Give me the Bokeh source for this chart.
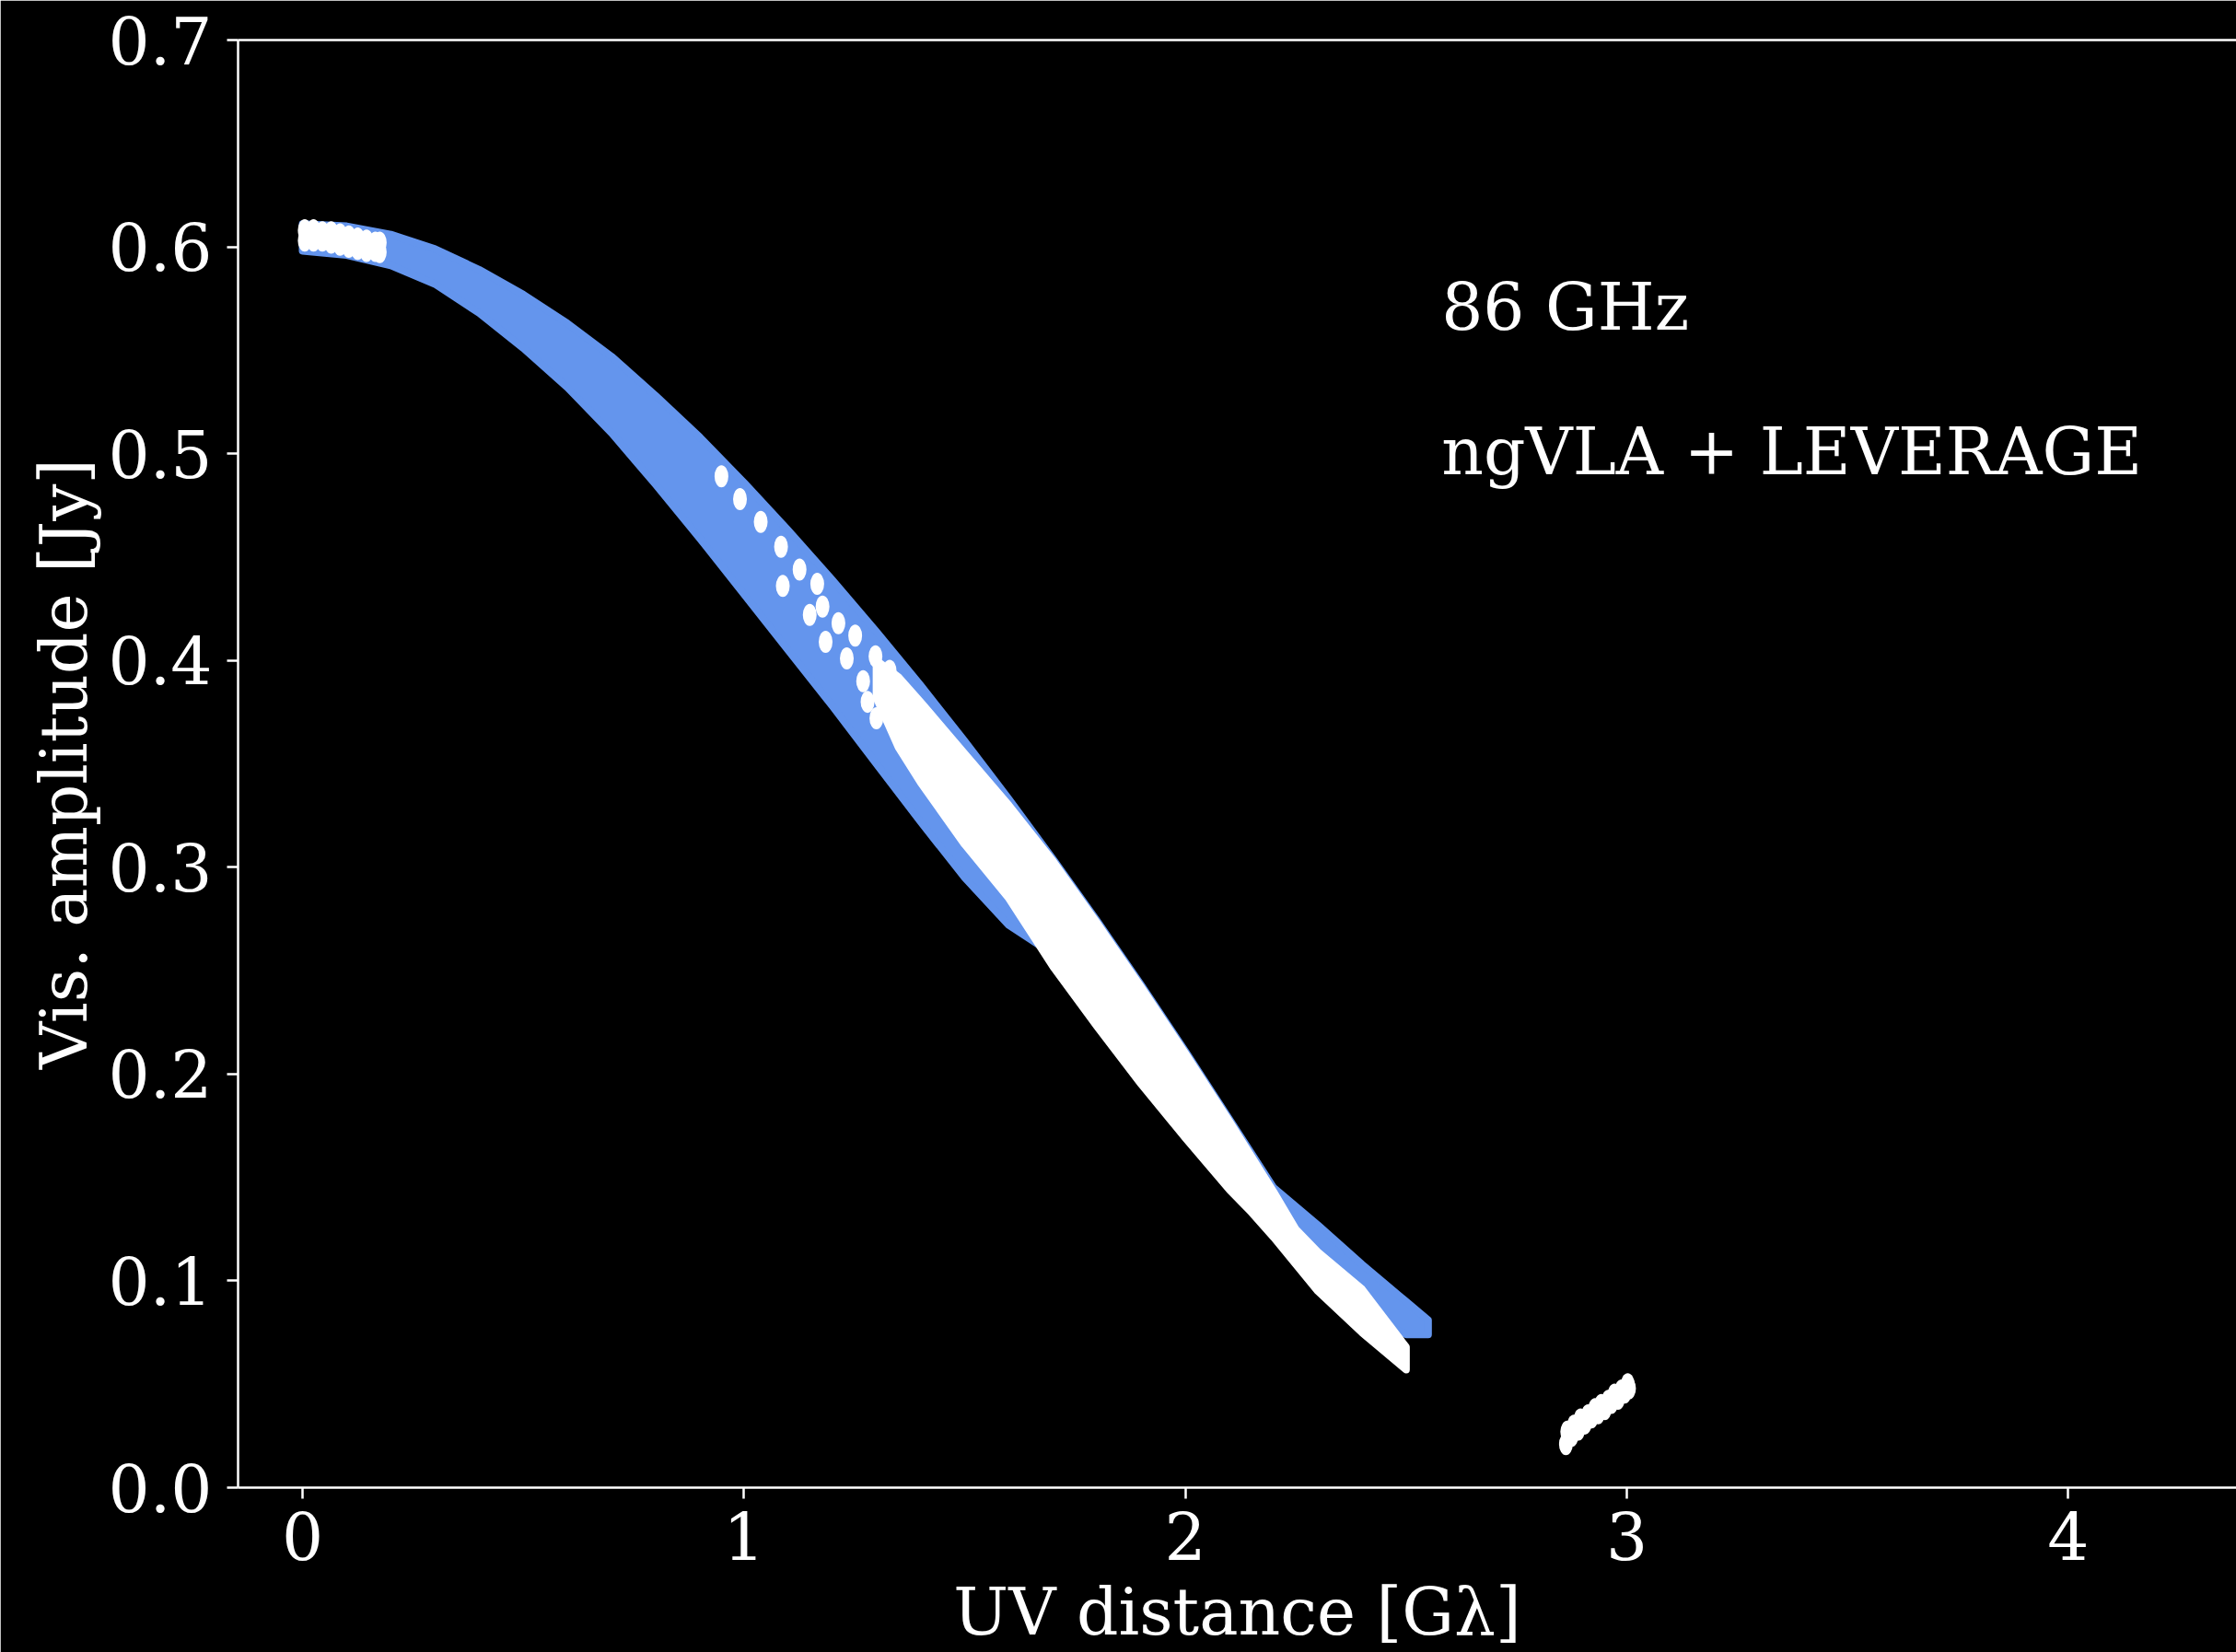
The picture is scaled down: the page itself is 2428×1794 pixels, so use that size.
from bokeh.plotting import figure
from bokeh.models import Range1d, FixedTicker, PrintfTickFormatter, LinearAxis, Label
from bokeh.embed import file_html
from bokeh.resources import INLINE

# ngVLA visibility band: UV distance [Glambda] with upper / lower amplitude envelope [Jy]
ngvla_uv = [0.00, 0.10, 0.20, 0.30, 0.40, 0.50, 0.60, 0.70, 0.80, 0.90, 1.00, 1.10, 1.20,
            1.30, 1.40, 1.50, 1.60, 1.70, 1.80, 1.90, 2.00, 2.10, 2.20, 2.30, 2.40, 2.50, 2.55]
ngvla_amp_hi = [0.611, 0.610, 0.606, 0.599, 0.589, 0.577, 0.563, 0.547, 0.528, 0.508, 0.486,
                0.463, 0.439, 0.414, 0.388, 0.361, 0.333, 0.304, 0.274, 0.243, 0.211, 0.178,
                0.145, 0.127, 0.108, 0.090, 0.081]
ngvla_amp_lo = [0.598, 0.596, 0.591, 0.582, 0.568, 0.551, 0.532, 0.510, 0.485, 0.459, 0.432,
                0.405, 0.378, 0.350, 0.322, 0.295, 0.272, 0.258, 0.229, 0.201, 0.175, 0.150,
                0.127, 0.103, 0.085, 0.074, 0.074]

# ngVLA + LEVERAGE dense band
lev_uv = [1.30, 1.35, 1.40, 1.50, 1.60, 1.70, 1.80, 1.90, 2.00, 2.10, 2.15, 2.20, 2.25,
          2.30, 2.40, 2.50]
lev_amp_hi = [0.400, 0.392, 0.380, 0.355, 0.330, 0.303, 0.273, 0.242, 0.210, 0.177, 0.160,
              0.143, 0.125, 0.114, 0.096, 0.068]
lev_amp_lo = [0.382, 0.358, 0.341, 0.311, 0.285, 0.252, 0.223, 0.195, 0.169, 0.144, 0.133,
              0.121, 0.108, 0.095, 0.075, 0.057]

# ngVLA + LEVERAGE individual visibilities
lev_short_uv = [0.005, 0.005, 0.025, 0.025, 0.045, 0.045, 0.065, 0.065, 0.085, 0.085,
                0.105, 0.105, 0.125, 0.125, 0.145, 0.145, 0.165, 0.165, 0.175, 0.175]
lev_short_amp = [0.608, 0.603, 0.608, 0.603, 0.607, 0.603, 0.607, 0.602, 0.606, 0.601,
                 0.605, 0.600, 0.604, 0.599, 0.603, 0.598, 0.602, 0.598, 0.602, 0.5975]

lev_mid_uv = [0.949, 0.991, 1.038, 1.084, 1.126, 1.088, 1.166, 1.149, 1.178, 1.185,
              1.214, 1.233, 1.252, 1.270, 1.298, 1.280, 1.315, 1.330, 1.300, 1.345]
lev_mid_amp = [0.489, 0.478, 0.467, 0.455, 0.444, 0.436, 0.437, 0.422, 0.426, 0.409,
               0.418, 0.401, 0.412, 0.390, 0.402, 0.380, 0.388, 0.395, 0.372, 0.380]

lev_long_uv = [2.862, 2.865, 2.875, 2.880, 2.890, 2.895, 2.905, 2.912, 2.920, 2.928,
               2.935, 2.942, 2.950, 2.958, 2.965, 2.972, 2.980, 2.988, 2.995, 3.002, 3.005]
lev_long_amp = [0.021, 0.027, 0.025, 0.030, 0.028, 0.033, 0.031, 0.035, 0.034, 0.038,
                0.036, 0.040, 0.038, 0.042, 0.041, 0.045, 0.043, 0.047, 0.046, 0.050, 0.048]

x_ticks = [0, 1, 2, 3, 4]
y_ticks = [0.0, 0.1, 0.2, 0.3, 0.4, 0.5, 0.6, 0.7]

BLUE = "#6495ED"
FONT = "DejaVu Serif"
FS = "71px"

p = figure(width=2428, height=1794, output_backend="svg", toolbar_location=None,
           x_range=Range1d(-0.146, 4.381), y_range=Range1d(0.0, 0.7),
           min_border_left=258, min_border_right=0, min_border_top=43,
           min_border_bottom=178, background_fill_color="black",
           border_fill_color="black", outline_line_color=None)
p.grid.visible = False

for ax in (p.xaxis[0], p.yaxis[0]):
    ax.axis_line_color = "white"
    ax.axis_line_width = 2.5
    ax.major_tick_line_color = "white"
    ax.major_tick_line_width = 2.5
    ax.major_tick_out = 12
    ax.major_tick_in = 0
    ax.minor_tick_line_color = None
    ax.major_label_text_color = "white"
    ax.major_label_text_font = FONT
    ax.major_label_text_font_size = FS
    ax.axis_label_text_color = "white"
    ax.axis_label_text_font = FONT
    ax.axis_label_text_font_size = FS
    ax.axis_label_text_font_style = "normal"

p.xaxis.ticker = FixedTicker(ticks=x_ticks)
p.xaxis.formatter = PrintfTickFormatter(format="%d")
p.xaxis.major_label_standoff = 14
p.xaxis.axis_label = "UV distance [Gλ]"
p.xaxis.axis_label_standoff = 12

p.yaxis.ticker = FixedTicker(ticks=y_ticks)
p.yaxis.formatter = PrintfTickFormatter(format="%.1f")
p.yaxis.major_label_standoff = 16
p.yaxis.axis_label = "Vis. amplitude [Jy]"
p.yaxis.axis_label_standoff = 4

top = LinearAxis(ticker=FixedTicker(ticks=[]), axis_line_color="white", axis_line_width=2.5,
                 major_tick_line_color=None, minor_tick_line_color=None,
                 major_label_text_font_size="0px")
p.add_layout(top, "above")

# ngVLA band
p.patch(ngvla_uv + ngvla_uv[::-1], ngvla_amp_hi + ngvla_amp_lo[::-1],
        fill_color=BLUE, line_color=BLUE, line_width=8, line_join="round")

# ngVLA + LEVERAGE band and points
p.patch(lev_uv + lev_uv[::-1], lev_amp_hi + lev_amp_lo[::-1],
        fill_color="white", line_color="white", line_width=8, line_join="round")
for xs, ys in ((lev_short_uv, lev_short_amp), (lev_mid_uv, lev_mid_amp),
               (lev_long_uv, lev_long_amp)):
    p.ellipse(x=xs, y=ys, width=15, height=24, width_units="screen",
              height_units="screen", fill_color="white", line_color=None)

p.add_layout(Label(x=2.58, y=0.571, text="86 GHz", text_color="white", text_font=FONT,
                   text_font_size=FS, text_baseline="alphabetic"))
p.add_layout(Label(x=2.58, y=0.501, text="ngVLA + LEVERAGE", text_color="white",
                   text_font=FONT, text_font_size=FS, text_baseline="alphabetic"))

open("out.html", "w").write(file_html(p, INLINE))
